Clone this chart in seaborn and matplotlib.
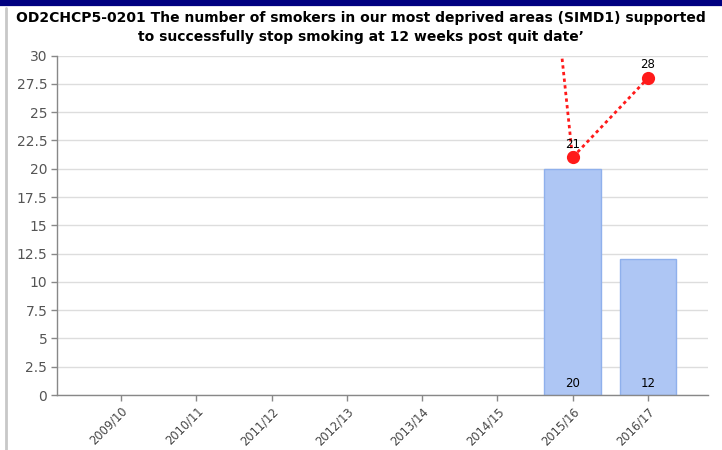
import matplotlib
matplotlib.use("Agg")
import matplotlib.pyplot as plt
import seaborn as sns
import pandas as pd
import numpy as np

categories = ["2009/10", "2010/11", "2011/12", "2012/13", "2013/14", "2014/15", "2015/16", "2016/17"]
bar_values = [np.nan, np.nan, np.nan, np.nan, np.nan, np.nan, 20, 12]
line_values = [np.nan, np.nan, np.nan, np.nan, np.nan, 84, 21, 28]
y_ticks = [0, 2.5, 5, 7.5, 10, 12.5, 15, 17.5, 20, 22.5, 25, 27.5, 30]
y_tick_labels = ["0", "2.5", "5", "7.5", "10", "12.5", "15", "17.5", "20", "22.5", "25", "27.5", "30"]
title = "OD2CHCP5-0201 The number of smokers in our most deprived areas (SIMD1) supported\nto successfully stop smoking at 12 weeks post quit date\u2019"

sns.set_theme(style="white")
plt.rcParams['font.family'] = ['DejaVu Sans']

df = pd.DataFrame({"cat": categories, "bar": bar_values, "line": line_values})

fig = plt.figure(figsize=(7.22, 4.5), dpi=100)
ax = fig.add_axes([0.079, 0.1222, 0.9016, 0.7542])

sns.barplot(data=df, x="cat", y="bar", order=categories, ax=ax, color="#aec6f4",
            edgecolor="#8fb0ec", linewidth=1, width=0.75, saturation=1, zorder=2)

pos = {c: i for i, c in enumerate(categories)}
ldf = df.dropna(subset=["line"]).copy()
ldf["x"] = ldf["cat"].map(pos)
sns.lineplot(data=ldf, x="x", y="line", ax=ax, color="#ff1a1a", linestyle=(0, (1.2, 1.2)),
             linewidth=2, marker="o", markersize=9.5, markeredgewidth=0, zorder=4, clip_on=True)

for c, v in zip(categories, bar_values):
    if not np.isnan(v):
        ax.text(pos[c], 0.4, f"{int(v)}", ha="center", va="bottom", fontsize=8.5, color="black", zorder=5)
for c, v in zip(categories, line_values):
    if not np.isnan(v) and v <= 30:
        ax.text(pos[c], v + 0.6, f"{int(v)}", ha="center", va="bottom", fontsize=8.5, color="black", zorder=5)

ax.set_xlim(-0.85, 7.8)
ax.set_ylim(0, 30)
ax.set_yticks(y_ticks)
ax.set_yticklabels(y_tick_labels, fontsize=10, color="#555555")
ax.set_xticks(range(len(categories)))
ax.set_xticklabels(categories, rotation=45, ha="right", rotation_mode="anchor", fontsize=8.3, color="#444444")
ax.set_xlabel("")
ax.set_ylabel("")
ax.yaxis.grid(True, color="#dddddd", linewidth=1)
ax.set_axisbelow(True)
for s in ["top", "right"]:
    ax.spines[s].set_visible(False)
for s in ["left", "bottom"]:
    ax.spines[s].set_color("#888888")
    ax.spines[s].set_linewidth(1)
ax.tick_params(axis="both", which="both", length=4, color="#888888", width=1, direction="out", left=True, bottom=True, pad=3)

fig.text(0.5, 0.939, title, ha="center", va="center", fontsize=10, fontweight="bold", color="black", linespacing=1.45)

# decorative frame: top navy band and left grey rule
fig.add_artist(plt.Line2D([0, 1], [0.993, 0.993], transform=fig.transFigure, color="#000080", linewidth=4.5))
fig.add_artist(plt.Line2D([0.009, 0.009], [0, 0.982], transform=fig.transFigure, color="#c8c8c8", linewidth=2))

fig.savefig("out.png", dpi=100)
